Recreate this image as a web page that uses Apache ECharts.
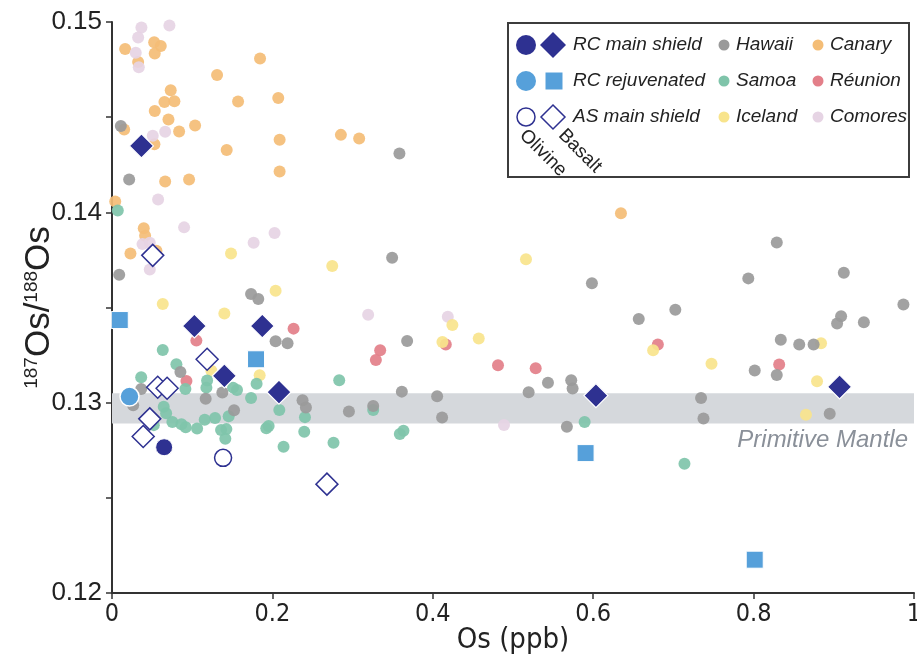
<!DOCTYPE html>
<html>
<head>
<meta charset="utf-8">
<title>Os isotopes vs Os concentration</title>
<script src="https://cdn.jsdelivr.net/npm/echarts@6/dist/echarts.min.js"></script>
<style>
  html, body { margin: 0; padding: 0; background: #fff; }
  #chart { width: 917px; height: 659px; }
</style>
</head>
<body>
<div id="chart"></div>
<script>
// Os concentration (ppb) and 187Os/188Os for each island group
const hawaii = [
  [0.011,0.14453],[0.0214,0.14173],[0.009,0.13672],[0.1734,0.13571],[0.1824,0.13545],[0.204,0.13323],
  [0.2189,0.13312],[0.0853,0.13161],[0.0364,0.13072],[0.1376,0.13053],[0.1168,0.13021],[0.0264,0.12987],
  [0.1522,0.1296],[0.2376,0.13013],[0.2418,0.12974],[0.368,0.13324],[0.5436,0.13105],[0.5726,0.13118],
  [0.5743,0.13074],[0.5195,0.13055],[0.3614,0.13058],[0.4054,0.13034],[0.2954,0.12953],[0.3257,0.12983],
  [0.4116,0.12922],[0.5672,0.12873],[0.3584,0.14309],[0.3493,0.13761],[0.5984,0.13627],[0.8289,0.13842],
  [0.7934,0.13653],[0.9125,0.13683],[0.9868,0.13516],[0.6568,0.1344],[0.7024,0.13488],[0.9091,0.13454],
  [0.9041,0.13416],[0.9375,0.13423],[0.8339,0.13331],[0.8569,0.13306],[0.8748,0.13306],[0.8014,0.13169],
  [0.8289,0.13145],[0.7345,0.13025],[0.7375,0.12917],[0.8949,0.12942]
];
const canary = [
  [0.0164,0.14858],[0.0526,0.14893],[0.0608,0.14874],[0.0533,0.14834],[0.0326,0.1479],[0.1846,0.14808],
  [0.131,0.14722],[0.0732,0.14642],[0.0654,0.1458],[0.0778,0.14584],[0.0533,0.14533],[0.1572,0.14582],
  [0.2073,0.14601],[0.0704,0.14488],[0.0152,0.14435],[0.0837,0.14425],[0.1036,0.14456],[0.0529,0.14358],
  [0.209,0.14381],[0.143,0.14328],[0.0663,0.14162],[0.0961,0.14173],[0.209,0.14215],[0.004,0.14057],
  [0.0396,0.13916],[0.0413,0.13877],[0.023,0.13784],[0.0554,0.13798],[0.2854,0.14407],[0.3082,0.14388],
  [0.6346,0.13995]
];
const comores = [
  [0.0367,0.14971],[0.0716,0.14981],[0.0326,0.14918],[0.0296,0.14839],[0.0334,0.14762],[0.0508,0.14402],
  [0.0663,0.14423],[0.0575,0.14068],[0.0899,0.13921],[0.038,0.13833],[0.0471,0.1384],[0.0471,0.137],
  [0.1766,0.1384],[0.2027,0.13891],[0.3194,0.13462],[0.4187,0.13452],[0.4888,0.12883]
];
const reunion = [
  [0.1052,0.13326],[0.0928,0.13114],[0.2264,0.13389],[0.4162,0.13305],[0.3344,0.13275],[0.329,0.13224],
  [0.4813,0.13197],[0.5283,0.13181],[0.6806,0.13306],[0.8319,0.13201]
];
const iceland = [
  [0.1484,0.13784],[0.204,0.13588],[0.0633,0.13518],[0.1401,0.13468],[0.1239,0.13168],[0.1841,0.13144],
  [0.2746,0.13718],[0.5162,0.13753],[0.4244,0.13408],[0.4573,0.13337],[0.412,0.13319],[0.6747,0.13275],
  [0.7475,0.13205],[0.8841,0.13312],[0.8791,0.13113],[0.8653,0.12937]
];
const samoa = [
  [0.0072,0.1401],[0.0633,0.13277],[0.0803,0.13202],[0.0364,0.13134],[0.0915,0.13072],[0.1186,0.13116],
  [0.1177,0.13079],[0.1509,0.13079],[0.1559,0.13067],[0.1803,0.13099],[0.1734,0.13025],[0.0645,0.12979],
  [0.0675,0.12945],[0.1455,0.12929],[0.1285,0.1292],[0.1156,0.1291],[0.0753,0.12899],[0.0866,0.12887],
  [0.0919,0.12871],[0.1061,0.12864],[0.0521,0.12882],[0.136,0.12857],[0.1426,0.12861],[0.1413,0.1281],
  [0.1924,0.12866],[0.1953,0.12878],[0.2086,0.12962],[0.2406,0.12924],[0.2397,0.12847],[0.2139,0.12768],
  [0.2833,0.13118],[0.3257,0.12962],[0.2762,0.12789],[0.3634,0.12853],[0.3589,0.12835],[0.5893,0.12898],
  [0.7138,0.12679]
];

// RC / AS samples: olivine (circles) and basalt (diamonds / squares)
const rcMainBasalt = [
  [0.0367,0.14349],[0.1027,0.13403],[0.1874,0.13403],[0.1401,0.13141],[0.2082,0.13055],[0.6034,0.13037],[0.9072,0.13083]
];
const rcMainOlivine = [[0.065,0.12766]];
const rcRejuvOlivine = [[0.0218,0.13032]];
const rcRejuvBasalt = [[0.0097,0.13434],[0.1796,0.13228],[0.5905,0.12735],[0.8014,0.12175]];
const asMainOlivine = [[0.1385,0.1271]];
const asMainBasalt = [
  [0.0508,0.13774],[0.1186,0.13228],[0.057,0.13081],[0.0687,0.13076],[0.0471,0.12915],[0.0389,0.12822],[0.268,0.12572]
];

// Primitive mantle 187Os/188Os range
const primitiveMantleBand = [0.1289, 0.1305];

// Axis ranges and ticks
const xRange = [0, 1, 0.2];
const yRange = [0.12, 0.15, 0.005];

const NAVY = '#2e3191';
const BLUE = '#56a0da';
const COLORS = {
  Hawaii: '#9a9a9a', Canary: '#f4bd76', Samoa: '#7fc4aa',
  'Réunion': '#e37f89', Iceland: '#f8e48c', Comores: '#e6d4e4'
};
const SANS = "'Liberation Sans', Arial, Helvetica, sans-serif";
const NARROW = "'DejaVu Sans Condensed', 'Liberation Sans', sans-serif";

function dots(name, data) {
  return {
    name, type: 'scatter', data, symbol: 'circle', symbolSize: 12, z: 3, clip: false,
    itemStyle: { color: COLORS[name], opacity: 0.92 }
  };
}

// Legend drawn as a boxed key
const legendTextStyle = { font: 'italic 19px ' + SANS, fill: '#222', verticalAlign: 'middle', align: 'left' };
function diamondPts(cx, cy, h) { return [[cx, cy - h], [cx + h, cy], [cx, cy + h], [cx - h, cy]]; }
const rowY = [45, 81, 117];
const legendGraphics = [
  { type: 'rect', shape: { x: 508, y: 23, width: 401, height: 154 }, style: { fill: '#fff', stroke: '#3c3c3c', lineWidth: 2 }, z: 100 },
  // row 1
  { type: 'circle', shape: { cx: 526, cy: rowY[0], r: 10 }, style: { fill: NAVY }, z: 101 },
  { type: 'polygon', shape: { points: diamondPts(553, rowY[0], 13) }, style: { fill: NAVY }, z: 101 },
  { type: 'text', x: 573, y: rowY[0], style: Object.assign({ text: 'RC main shield' }, legendTextStyle), z: 101 },
  // row 2
  { type: 'circle', shape: { cx: 526, cy: rowY[1], r: 10 }, style: { fill: BLUE }, z: 101 },
  { type: 'rect', shape: { x: 545.5, y: rowY[1] - 8.5, width: 17, height: 17 }, style: { fill: BLUE }, z: 101 },
  { type: 'text', x: 573, y: rowY[1], style: Object.assign({ text: 'RC rejuvenated' }, legendTextStyle), z: 101 },
  // row 3
  { type: 'circle', shape: { cx: 526, cy: rowY[2], r: 9 }, style: { fill: '#fff', stroke: NAVY, lineWidth: 1.5 }, z: 101 },
  { type: 'polygon', shape: { points: diamondPts(553, rowY[2], 12) }, style: { fill: '#fff', stroke: NAVY, lineWidth: 1.5 }, z: 101 },
  { type: 'text', x: 573, y: rowY[2], style: Object.assign({ text: 'AS main shield' }, legendTextStyle), z: 101 },
  // sample type captions
  { type: 'text', x: 543, y: 153, rotation: -Math.PI / 4, style: { text: 'Olivine', font: '19px ' + SANS, fill: '#222', align: 'center', verticalAlign: 'middle' }, z: 101 },
  { type: 'text', x: 580, y: 151, rotation: -Math.PI / 4, style: { text: 'Basalt', font: '19px ' + SANS, fill: '#222', align: 'center', verticalAlign: 'middle' }, z: 101 }
];
const dotKeys = [
  ['Hawaii', 724, rowY[0]], ['Canary', 818, rowY[0]],
  ['Samoa', 724, rowY[1]], ['Réunion', 818, rowY[1]],
  ['Iceland', 724, rowY[2]], ['Comores', 818, rowY[2]]
];
dotKeys.forEach(([name, cx, cy]) => {
  legendGraphics.push({ type: 'circle', shape: { cx, cy, r: 5.5 }, style: { fill: COLORS[name] }, z: 101 });
  legendGraphics.push({ type: 'text', x: cx + 12, y: cy, style: Object.assign({ text: name }, legendTextStyle), z: 101 });
});
legendGraphics.push({
  type: 'text', x: 908, y: 440,
  style: { text: 'Primitive Mantle', font: 'italic 24px ' + SANS, fill: '#8a9099', align: 'right', verticalAlign: 'middle' },
  z: 50
});

const chart = echarts.init(document.getElementById('chart'), null, { renderer: 'canvas' });
chart.setOption({
  animation: false,
  backgroundColor: '#fff',
  grid: { left: 112, right: 3, top: 22, bottom: 66, containLabel: false, outerBoundsMode: 'none' },
  xAxis: {
    type: 'value', min: xRange[0], max: xRange[1], interval: xRange[2],
    name: 'Os (ppb)', nameLocation: 'middle', nameGap: 33, nameMoveOverlap: false,
    nameTextStyle: { fontFamily: NARROW, fontSize: 29, color: '#222' },
    axisLine: { lineStyle: { color: '#333', width: 2 } },
    axisTick: { length: 6, lineStyle: { color: '#333', width: 1.5 } },
    splitLine: { show: false },
    axisLabel: {
      fontFamily: NARROW, fontSize: 25, color: '#222', margin: 9,
      formatter: v => (v === 0 || v === 1) ? String(v) : v.toFixed(1)
    }
  },
  yAxis: {
    type: 'value', min: yRange[0], max: yRange[1], interval: yRange[2],
    name: '{s|187}{o|Os/}{s|188}{o|Os}', nameLocation: 'middle', nameRotate: 90, nameGap: 56, nameMoveOverlap: false,
    nameTextStyle: {
      rich: {
        s: { fontFamily: SANS, fontSize: 19, color: '#222', verticalAlign: 'top', lineHeight: 34 },
        o: { fontFamily: SANS, fontSize: 35, color: '#222', lineHeight: 34 }
      }
    },
    axisLine: { lineStyle: { color: '#333', width: 2 } },
    axisTick: { length: 6, lineStyle: { color: '#333', width: 1.5 } },
    splitLine: { show: false },
    axisLabel: {
      fontFamily: SANS, fontSize: 26, color: '#222', margin: 10,
      formatter: v => Math.abs(v * 100 - Math.round(v * 100)) < 1e-6 ? v.toFixed(2) : ''
    }
  },
  graphic: legendGraphics,
  series: [
    {
      name: 'Primitive Mantle', type: 'scatter', data: [], z: 1,
      markArea: {
        silent: true,
        itemStyle: { color: '#d5d8dc', opacity: 1 },
        data: [[{ yAxis: primitiveMantleBand[0] }, { yAxis: primitiveMantleBand[1] }]]
      }
    },
    dots('Canary', canary),
    dots('Comores', comores),
    dots('Réunion', reunion),
    dots('Iceland', iceland),
    dots('Samoa', samoa),
    dots('Hawaii', hawaii),
    {
      name: 'AS main shield basalt', type: 'scatter', data: asMainBasalt, symbol: 'diamond', symbolSize: 22, z: 5, clip: false,
      itemStyle: { color: '#fff', borderColor: NAVY, borderWidth: 1.5, opacity: 1 }
    },
    {
      name: 'AS main shield olivine', type: 'scatter', data: asMainOlivine, symbol: 'circle', symbolSize: 17, z: 5, clip: false,
      itemStyle: { color: '#fff', borderColor: NAVY, borderWidth: 1.5, opacity: 1 }
    },
    {
      name: 'RC rejuvenated basalt', type: 'scatter', data: rcRejuvBasalt, symbol: 'rect', symbolSize: 17, z: 6, clip: false,
      itemStyle: { color: BLUE, borderColor: '#fff', borderWidth: 1, opacity: 1 }
    },
    {
      name: 'RC rejuvenated olivine', type: 'scatter', data: rcRejuvOlivine, symbol: 'circle', symbolSize: 19, z: 6, clip: false,
      itemStyle: { color: BLUE, borderColor: '#fff', borderWidth: 1.5, opacity: 1 }
    },
    {
      name: 'RC main shield basalt', type: 'scatter', data: rcMainBasalt, symbol: 'diamond', symbolSize: 24, z: 7, clip: false,
      itemStyle: { color: NAVY, borderColor: '#fff', borderWidth: 1.2, opacity: 1 }
    },
    {
      name: 'RC main shield olivine', type: 'scatter', data: rcMainOlivine, symbol: 'circle', symbolSize: 17, z: 7, clip: false,
      itemStyle: { color: NAVY, borderColor: '#fff', borderWidth: 1, opacity: 1 }
    }
  ]
});
</script>
</body>
</html>
